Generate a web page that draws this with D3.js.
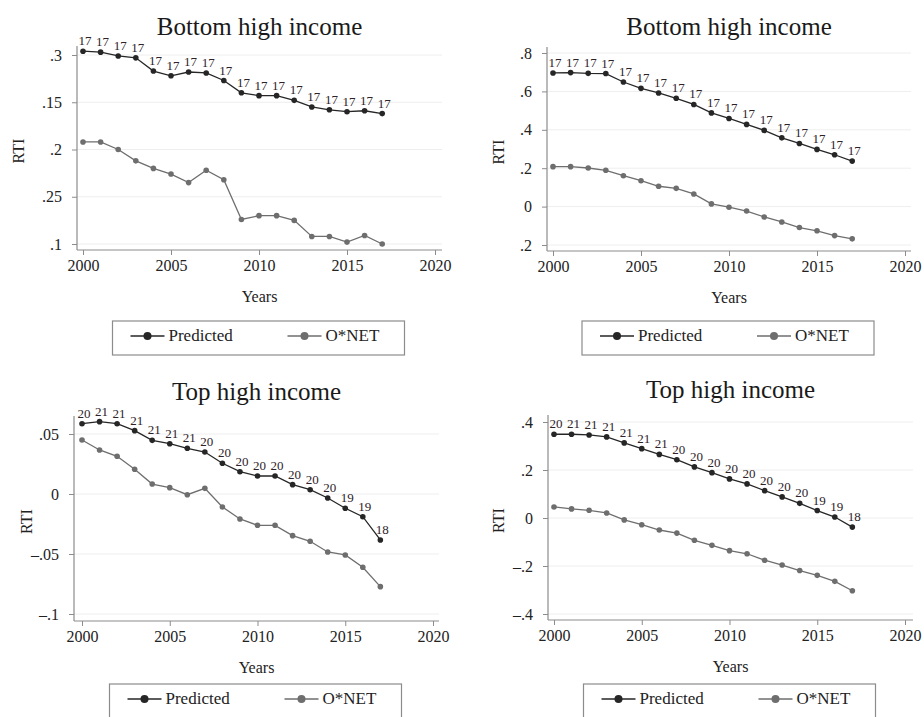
<!DOCTYPE html>
<html>
<head>
<meta charset="utf-8">
<script src="https://cdn.jsdelivr.net/npm/d3@7"></script>
<style>
  body { margin: 0; background: #fff; }
  svg, svg text { font-family: "Liberation Serif", "DejaVu Serif", serif !important; }
</style>
</head>
<body>
<div id="chart"></div>
<script>
// Data
const years = [2000, 2001, 2002, 2003, 2004, 2005, 2006, 2007, 2008,
  2009, 2010, 2011, 2012, 2013, 2014, 2015, 2016, 2017];
const xTicks = [2000, 2005, 2010, 2015, 2020];

// Panel A (top left)
const aPredicted = [-0.046, -0.047, -0.051, -0.053, -0.067, -0.072, -0.068, -0.069, -0.077,
  -0.090, -0.093, -0.093, -0.098, -0.105, -0.108, -0.110, -0.109, -0.112];
const aOnet = [-0.142, -0.142, -0.150, -0.162, -0.170, -0.176, -0.185, -0.172, -0.182,
  -0.224, -0.220, -0.220, -0.225, -0.242, -0.242, -0.248, -0.241, -0.250];
const aLabels = Array(18).fill("17");
const aTicks = [-0.05, -0.1, -0.15, -0.2, -0.25];
const aTickLabels = [".3", ".15", ".2", ".25", ".1"];

// Panel B (top right)
const bPredicted = [0.696, 0.698, 0.694, 0.693, 0.649, 0.616, 0.592, 0.564, 0.532,
  0.488, 0.459, 0.428, 0.397, 0.358, 0.329, 0.298, 0.270, 0.237];
const bOnet = [0.208, 0.208, 0.201, 0.189, 0.161, 0.135, 0.106, 0.095, 0.066,
  0.014, -0.003, -0.023, -0.054, -0.080, -0.109, -0.126, -0.151, -0.168];
const bLabels = Array(18).fill("17");
const bTicks = [0.8, 0.6, 0.4, 0.2, 0, -0.2];
const bTickLabels = [".8", ".6", ".4", ".2", "0", ".2"];

// Panel C (bottom left)
const cPredicted = [0.0586, 0.0603, 0.0586, 0.0528, 0.0447, 0.0419, 0.0381, 0.0350, 0.0256,
  0.0186, 0.0150, 0.0150, 0.0078, 0.0036, -0.0033, -0.0119, -0.0189, -0.0383];
const cOnet = [0.0450, 0.0367, 0.0314, 0.0206, 0.0083, 0.0053, -0.0006, 0.0047, -0.0108,
  -0.0208, -0.0261, -0.0261, -0.0347, -0.0394, -0.0483, -0.0508, -0.0611, -0.0772];
const cLabels = ["20", "21", "21", "21", "21", "21", "21", "20", "20",
  "20", "20", "20", "20", "20", "20", "19", "19", "18"];
const cTicks = [0.05, 0, -0.05, -0.1];
const cTickLabels = [".05", "0", "\u2013.05", "\u2013.1"];

// Panel D (bottom right)
const dPredicted = [0.349, 0.349, 0.346, 0.338, 0.313, 0.289, 0.265, 0.243, 0.213,
  0.189, 0.163, 0.142, 0.114, 0.088, 0.061, 0.031, 0.004, -0.038];
const dOnet = [0.046, 0.038, 0.032, 0.021, -0.008, -0.028, -0.050, -0.063, -0.093,
  -0.114, -0.136, -0.149, -0.176, -0.196, -0.219, -0.239, -0.264, -0.303];
const dLabels = cLabels;
const dTicks = [0.4, 0.2, 0, -0.2, -0.4];
const dTickLabels = [".4", ".2", "0", "\u2013.2", "\u2013.4"];

const PRED_COLOR = "#262626";
const ONET_COLOR = "#6e6e6e";
const LABEL_COLOR = "#2e2228";
const FONT = "'Liberation Serif', 'DejaVu Serif', serif";

const width = 924, height = 717;
const svg = d3.select("#chart").append("svg")
  .attr("width", width)
  .attr("height", height)
  .style("font-family", FONT);

// Layout of each panel (pixel geometry only)
const panels = [
  { title: "Bottom high income", pred: aPredicted, onet: aOnet, labels: aLabels,
    ticks: aTicks, tickLabels: aTickLabels,
    axisX: 77, right: 442, top: 46, axisY: 250, x0: 83, x1: 435, yTop: 55, yBot: 244,
    titleY: 35, rtiX: 24, legendY: 321 },
  { title: "Bottom high income", pred: bPredicted, onet: bOnet, labels: bLabels,
    ticks: bTicks, tickLabels: bTickLabels,
    axisX: 547, right: 911, top: 47, axisY: 251, x0: 553, x1: 905, yTop: 53, yBot: 245,
    titleY: 35, rtiX: 504, legendY: 321 },
  { title: "Top high income", pred: cPredicted, onet: cOnet, labels: cLabels,
    ticks: cTicks, tickLabels: cTickLabels,
    axisX: 74, right: 439, top: 416, axisY: 621, x0: 82, x1: 433, yTop: 434, yBot: 614,
    titleY: 400, rtiX: 32, legendY: 684 },
  { title: "Top high income", pred: dPredicted, onet: dOnet, labels: dLabels,
    ticks: dTicks, tickLabels: dTickLabels,
    axisX: 548, right: 913, top: 415, axisY: 620, x0: 554, x1: 905, yTop: 422, yBot: 614,
    titleY: 398, rtiX: 504, legendY: 684 },
];

panels.forEach(p => drawPanel(p));

function drawPanel(p) {
  const g = svg.append("g");
  const x = d3.scaleLinear().domain([2000, 2020]).range([p.x0, p.x1]);
  const y = d3.scaleLinear()
    .domain([p.ticks[0], p.ticks[p.ticks.length - 1]])
    .range([p.yTop, p.yBot]);

  // gridlines
  g.selectAll("line.grid").data(p.ticks).enter().append("line")
    .attr("class", "grid")
    .attr("x1", p.axisX).attr("x2", p.right)
    .attr("y1", d => y(d)).attr("y2", d => y(d))
    .attr("stroke", "#eeeeee").attr("stroke-width", 1);

  // y axis
  const yAxis = d3.axisLeft(y)
    .tickValues(p.ticks)
    .tickSize(5)
    .tickPadding(10)
    .tickFormat((d, i) => p.tickLabels[i]);
  const ya = g.append("g").attr("transform", `translate(${p.axisX},0)`).call(yAxis);
  ya.attr("font-family", null).attr("font-size", null);
  ya.select(".domain").remove();
  ya.append("line")
    .attr("x1", 0).attr("x2", 0).attr("y1", p.top).attr("y2", p.axisY)
    .attr("stroke", "#8c8c8c").attr("stroke-width", 1.2);
  ya.selectAll(".tick line").attr("stroke", "#8c8c8c");
  ya.selectAll(".tick text")
    .style("font-family", FONT)
    .attr("font-size", 16).attr("fill", "#222");

  // x axis
  const xAxis = d3.axisBottom(x)
    .tickValues(xTicks)
    .tickSize(5)
    .tickPadding(5)
    .tickFormat(d3.format("d"));
  const xa = g.append("g").attr("transform", `translate(0,${p.axisY})`).call(xAxis);
  xa.attr("font-family", null).attr("font-size", null);
  xa.select(".domain").remove();
  xa.append("line")
    .attr("x1", p.axisX).attr("x2", p.right).attr("y1", 0).attr("y2", 0)
    .attr("stroke", "#8c8c8c").attr("stroke-width", 1.2);
  xa.selectAll(".tick line").attr("stroke", "#8c8c8c");
  xa.selectAll(".tick text")
    .style("font-family", FONT)
    .attr("font-size", 16).attr("fill", "#222");

  // title
  const cx = (p.axisX + p.right) / 2;
  g.append("text")
    .attr("x", cx).attr("y", p.titleY)
    .attr("text-anchor", "middle")
    .attr("font-size", 25).attr("fill", "#1a1a1a")
    .text(p.title);

  // axis titles
  g.append("text")
    .attr("transform", `translate(${p.rtiX},${(p.top + p.axisY) / 2 + 3}) rotate(-90)`)
    .attr("text-anchor", "middle")
    .attr("font-size", 16).attr("fill", "#222")
    .text("RTI");
  g.append("text")
    .attr("x", cx).attr("y", p.axisY + 52)
    .attr("text-anchor", "middle")
    .attr("font-size", 16).attr("fill", "#222")
    .text("Years");

  // series
  const line = d3.line().x((d, i) => x(years[i])).y(d => y(d));
  [[p.onet, ONET_COLOR], [p.pred, PRED_COLOR]].forEach(([vals, col]) => {
    g.append("path").datum(vals)
      .attr("d", line)
      .attr("fill", "none")
      .attr("stroke", col)
      .attr("stroke-width", 1.3);
    g.selectAll(null).data(vals).enter().append("circle")
      .attr("cx", (d, i) => x(years[i]))
      .attr("cy", d => y(d))
      .attr("r", 2.8)
      .attr("fill", col);
  });

  // marker labels
  g.selectAll(null).data(p.pred).enter().append("text")
    .attr("x", (d, i) => x(years[i]) + 2)
    .attr("y", d => y(d) - 6)
    .attr("text-anchor", "middle")
    .attr("font-size", 13)
    .attr("fill", LABEL_COLOR)
    .text((d, i) => p.labels[i]);

  // legend
  const lx = cx - 147;
  const leg = g.append("g").attr("transform", `translate(${lx},${p.legendY})`);
  leg.append("rect")
    .attr("x", 0).attr("y", 0).attr("width", 292).attr("height", 34)
    .attr("fill", "#fff").attr("stroke", "#8c8c8c").attr("stroke-width", 1.2);
  const items = [
    { name: "Predicted", color: PRED_COLOR, x: 18 },
    { name: "O*NET", color: ONET_COLOR, x: 175 },
  ];
  items.forEach(it => {
    leg.append("line")
      .attr("x1", it.x).attr("x2", it.x + 34).attr("y1", 15).attr("y2", 15)
      .attr("stroke", it.color).attr("stroke-width", 1.5);
    leg.append("circle")
      .attr("cx", it.x + 17).attr("cy", 15).attr("r", 4)
      .attr("fill", it.color);
    leg.append("text")
      .attr("x", it.x + 38).attr("y", 20)
      .attr("font-size", 17).attr("fill", "#222")
      .text(it.name);
  });
}
</script>
</body>
</html>
